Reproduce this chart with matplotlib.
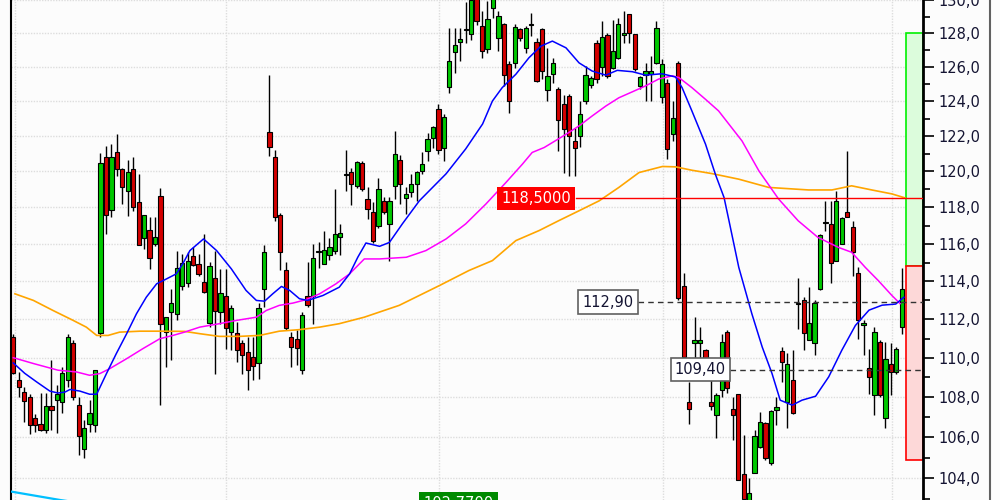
import numpy as np
import matplotlib.pyplot as plt
import matplotlib.transforms as mtransforms
from matplotlib.patches import Rectangle
from matplotlib.lines import Line2D
from matplotlib.ticker import FixedLocator, FuncFormatter, NullFormatter

# daily candles (open, high, low, close)
opens = [111.08, 108.86, 108.26, 108.0, 106.95, 106.65, 106.35, 107.56, 107.85, 107.76,
         108.86, 110.75, 107.6, 105.4, 106.65, 106.6, 111.26, 120.82, 117.87, 121.1,
         120.12, 118.93, 120.12, 118.32, 116.35, 116.78, 116.02, 118.65, 111.32, 112.36,
         112.3, 113.73, 113.9, 115.38, 114.95, 113.94, 111.78, 114.2, 112.36, 113.25,
         111.32, 111.26, 110.75, 110.28, 110.07, 109.72, 113.62, 122.23, 120.82, 117.6,
         114.58, 111.08, 111.0, 109.37, 113.25, 113.25, 115.55, 114.95, 115.43, 115.65,
         116.4, 119.8, 119.98, 119.21, 120.49, 118.48, 117.77, 117.0, 118.37, 117.1,
         119.21, 120.65, 118.54, 118.87, 119.32, 120.03, 121.16, 121.89, 123.56, 121.32,
         124.82, 126.87, 127.47, 128.2, 127.94, 130.3, 128.42, 127.05, 129.5, 127.7,
         128.54, 126.16, 126.22, 128.24, 127.1, 128.48, 127.47, 128.24, 124.64, 125.58,
         124.7, 123.85, 124.3, 121.72, 122.0, 124.01, 124.94, 127.41, 125.99, 127.88,
         125.92, 126.52, 127.88, 129.14, 127.94, 124.88, 125.52, 125.6, 126.22, 124.24,
         125.05, 122.12, 126.22, 113.78, 107.75, 110.75, 110.75, 110.39, 107.75, 107.1,
         108.35, 111.32, 107.4, 108.15, 104.2, 102.9, 104.24, 105.51, 106.7, 104.73,
         107.35, 110.34, 107.75, 108.86, 112.78, 112.99, 110.91, 110.75, 113.57, 117.15,
         117.1, 115.11, 116.0, 117.77, 116.95, 114.42, 111.68, 109.47, 108.1, 110.81,
         106.95, 109.67, 109.27, 111.58]
highs = [111.25, 109.28, 108.52, 108.18, 107.18, 108.2, 108.2, 109.87, 108.6, 109.53,
         111.25, 110.91, 108.0, 106.85, 107.85, 109.37, 121.04, 121.44, 121.55, 122.1,
         120.2, 120.63, 120.82, 119.85, 117.6, 117.45, 117.45, 119.1, 112.11, 113.61,
         115.65, 115.47, 115.56, 115.82, 115.47, 116.57, 115.02, 115.65, 114.67, 114.67,
         112.73, 111.85, 110.91, 111.08, 111.08, 112.83, 115.97, 125.52, 121.2, 117.71,
         115.02, 111.33, 111.42, 112.37, 115.02, 116.0, 116.1, 116.73, 116.35, 119.04,
         117.1, 121.2, 120.2, 120.6, 120.6, 119.11, 118.28, 119.66, 118.56, 118.56,
         122.29, 120.94, 119.11, 119.85, 120.03, 121.07, 122.17, 122.58, 123.85, 123.27,
         128.3, 128.3, 128.3, 129.9, 130.5, 130.6, 129.32, 129.92, 130.5, 129.32,
         128.6, 126.34, 128.54, 128.3, 128.42, 129.2, 127.72, 128.3, 127.1, 126.52,
         124.82, 124.36, 124.4, 122.46, 124.01, 126.05, 125.46, 127.59, 128.72, 128.0,
         128.82, 128.9, 129.32, 129.14, 127.94, 125.46, 126.24, 126.64, 128.72, 126.44,
         125.27, 124.01, 126.34, 114.44, 108.76, 112.11, 111.6, 110.48, 109.28, 108.2,
         111.25, 111.42, 108.0, 108.15, 106.1, 104.0, 106.35, 107.26, 106.77, 107.38,
         108.0, 110.55, 110.23, 110.39, 114.18, 113.16, 113.68, 112.99, 116.57, 118.37,
         118.37, 118.93, 117.45, 121.16, 117.27, 114.76, 111.94, 110.48, 111.6, 110.91,
         110.8, 110.75, 110.55, 114.73]
lows = [109.2, 108.0, 106.77, 106.18, 106.27, 106.3, 106.2, 106.35, 106.2, 107.2,
        108.52, 107.85, 105.12, 104.98, 106.27, 106.27, 111.06, 116.57, 117.45, 119.76,
        118.2, 117.55, 117.82, 115.95, 115.75, 114.67, 115.92, 107.6, 109.53, 109.87,
        111.94, 113.52, 113.7, 114.84, 114.31, 113.36, 111.59, 109.2, 111.76, 110.48,
        110.39, 109.79, 109.2, 108.35, 108.86, 108.94, 112.64, 120.88, 117.27, 114.58,
        111.42, 109.53, 109.62, 109.2, 112.64, 111.76, 114.73, 114.93, 115.16, 115.47,
        115.42, 118.93, 118.15, 119.1, 118.93, 117.38, 116.08, 116.9, 117.65, 115.11,
        118.47, 118.2, 117.65, 118.56, 118.37, 119.85, 120.6, 121.35, 120.99, 120.6,
        124.47, 125.64, 126.34, 127.4, 127.6, 128.5, 126.55, 126.82, 128.9, 126.93,
        124.88, 123.32, 125.95, 127.53, 126.82, 127.82, 125.13, 125.27, 124.01, 125.05,
        121.16, 119.93, 119.76, 119.76, 121.38, 123.85, 124.76, 125.05, 125.46, 125.35,
        125.87, 126.46, 127.41, 127.41, 125.76, 124.7, 124.01, 124.01, 126.16, 123.9,
        120.7, 121.72, 112.99, 109.99, 106.65, 109.99, 109.99, 109.2, 107.35, 105.95,
        108.0, 108.2, 105.85, 103.9, 102.5, 102.6, 104.24, 105.46, 104.88, 104.64,
        106.6, 108.78, 106.45, 107.18, 111.5, 110.39, 110.91, 110.13, 113.52, 116.7,
        113.9, 115.07, 116.0, 117.45, 114.31, 111.0, 110.13, 108.18, 107.1, 108.0,
        106.45, 108.1, 109.2, 111.25]
closes = [109.25, 108.52, 107.8, 106.6, 106.6, 106.35, 107.56, 107.35, 108.15, 109.22,
          111.08, 108.0, 106.05, 106.45, 107.2, 109.37, 120.49, 117.6, 120.82, 120.12,
          119.15, 119.99, 118.04, 115.97, 117.6, 115.27, 116.4, 111.73, 112.11, 112.83,
          114.69, 115.0, 115.11, 114.9, 114.37, 113.41, 114.84, 112.46, 113.36, 111.57,
          112.57, 110.39, 110.13, 109.37, 109.56, 112.57, 115.6, 121.38, 117.45, 115.6,
          111.52, 110.55, 110.5, 112.2, 112.73, 115.27, 115.6, 115.7, 115.86, 116.57,
          116.62, 119.85, 119.32, 120.55, 119.04, 117.93, 116.19, 119.04, 117.77, 118.37,
          120.99, 119.32, 118.76, 119.32, 119.98, 120.43, 121.83, 122.52, 121.21, 123.1,
          126.34, 127.3, 127.65, 128.25, 130.0, 128.72, 126.93, 128.84, 130.3, 129.02,
          125.52, 124.01, 128.36, 127.7, 128.3, 128.5, 125.17, 125.76, 125.46, 126.22,
          122.93, 122.4, 122.0, 121.32, 123.27, 125.52, 125.35, 125.29, 127.76, 125.46,
          126.93, 128.54, 128.0, 128.0, 125.87, 125.4, 125.76, 125.76, 128.3, 126.16,
          121.27, 123.04, 113.1, 110.03, 107.4, 110.91, 110.91, 109.97, 107.55, 108.1,
          110.8, 108.45, 107.1, 103.9, 103.0, 103.3, 106.05, 106.75, 104.98, 107.3,
          107.5, 109.77, 109.67, 107.2, 112.83, 111.26, 111.78, 112.88, 116.52, 117.2,
          115.0, 118.37, 117.43, 117.45, 115.56, 111.94, 111.78, 109.01, 111.32, 108.1,
          109.92, 109.27, 110.44, 113.57]

# moving averages, read at candle positions
blue_x = [0, 2.1, 4.3, 6.7, 8.2, 9.5, 10.4, 12.2, 14, 15.3, 17.1, 18.9, 20.8, 22.6, 24.4,
          26.3, 28.1, 29.9, 31.1, 32.4, 34.9, 37.3, 40, 42.7, 44.6, 46.1, 47.6, 49.2, 50.7,
          52.5, 54, 56.8, 59.8, 61.7, 63.2, 64.7, 67.2, 69, 71.4, 74.5, 79.4, 83, 86.1, 87.9,
          89.7, 92.2, 94.6, 96.8, 98.9, 101.4, 103.8, 106.2, 108.7, 110.8, 113.6, 116, 119,
          121.5, 122.7, 124.5, 127, 128.8, 130.4, 131.3, 133.1, 135.5, 137.4, 139.2, 140.7,
          142.9, 144.7, 147.2, 149.6, 152, 154.5, 157, 159.4, 161.9, 163.4]
blue_v = [109.74, 109.21, 108.77, 108.31, 108.21, 108.26, 108.39, 108.31, 108.15, 108.15,
          109.2, 110.22, 111.25, 112.29, 113.16, 113.87, 114.13, 114.4, 114.94, 115.65,
          116.28, 115.65, 114.67, 113.52, 112.99, 112.95, 113.34, 113.73, 113.52, 113.08,
          112.99, 113.25, 113.69, 114.4, 115.29, 116.06, 115.88, 116.09, 117.11, 118.37,
          119.87, 121.27, 122.69, 124.01, 124.79, 125.57, 126.54, 127.23, 127.53, 127.13,
          126.24, 125.76, 125.52, 125.8, 125.72, 125.52, 125.6, 125.41, 124.79, 123.44,
          121.54, 119.85, 118.55, 117.28, 114.75, 112.29, 110.56, 109.2, 107.85, 107.6,
          107.85, 108.05, 109.03, 110.39, 111.68, 112.48, 112.74, 112.8, 113.16]

pink_x = [0, 3.7, 8.2, 11.6, 14, 15.9, 17.7, 20.8, 23.8, 26.9, 29.3, 31.4, 34.2, 37.8, 40.9,
          44.6, 46.4, 48.8, 51.3, 53.7, 56.2, 59.2, 61.7, 64.4, 67.2, 72.1, 75.7, 79.4, 83,
          86.7, 90.4, 93.4, 95.2, 97.4, 98.9, 101.4, 103.8, 106.2, 108.7, 111.1, 113.6, 116,
          118.4, 120.9, 122.1, 124.5, 127, 129.4, 133.7, 136.8, 140.4, 144, 147.6, 151.4,
          153.8, 156.3, 158.7, 161.2, 162.7]
pink_v = [110.01, 109.71, 109.37, 109.28, 109.11, 109.2, 109.45, 109.96, 110.48, 110.99,
          111.16, 111.33, 111.59, 111.77, 111.94, 112.11, 112.46, 112.73, 112.85, 113.03,
          113.34, 113.87, 114.4, 115.2, 115.2, 115.29, 115.65, 116.28, 117.1, 118.19,
          119.39, 120.41, 121.07, 121.35, 121.63, 122.1, 122.58, 123.15, 123.72, 124.2,
          124.55, 124.89, 125.29, 125.48, 125.38, 124.79, 124.11, 123.44, 121.72, 120.03,
          118.47, 117.27, 116.37, 115.82, 115.56, 114.75, 114.04, 113.25, 112.82]

orange_x = [0.3, 3.7, 7.3, 11, 13.4, 15.3, 17.4, 19.5, 23.2, 26.9, 31.4, 34.2, 37.8, 41.5,
            45.2, 48.8, 52.5, 56.2, 59.8, 64.4, 70.8, 78.2, 83.6, 87.9, 92.2, 96.5, 100.1,
            103.8, 107.5, 111.1, 114.8, 119.1, 121.5, 124.5, 128.2, 133.1, 138.6, 145.9,
            150.2, 153.8, 157.5, 161.2, 163.6]
orange_v = [113.34, 112.99, 112.46, 111.94, 111.59, 111.16, 111.16, 111.33, 111.38, 111.38,
            111.37, 111.25, 111.11, 111.11, 111.16, 111.38, 111.46, 111.59, 111.77, 112.11,
            112.73, 113.78, 114.58, 115.11, 116.19, 116.74, 117.28, 117.82, 118.37, 119.11,
            119.94, 120.28, 120.26, 120.07, 119.88, 119.57, 119.11, 118.97, 118.97, 119.2,
            118.97, 118.75, 118.53]

cyan_x = [-0.5, 8.6, 20]
cyan_v = [103.35, 102.94, 102.5]

grid_x = [0.31, 39.0, 78.1, 119.2, 161.2]
y_major = list(range(104, 132, 2))
y_minor = list(range(103, 131, 2))

level_red = 118.5
level_mid = 112.9
level_low = 109.4
level_bottom = 102.77
zone_top, zone_mid, zone_low = 128.0, 114.8, 104.9

plt.rcParams['font.family'] = ['DejaVu Sans']
bg = '#fcfcfc'
fig = plt.figure(figsize=(10, 5), dpi=100, facecolor=bg)
ax = fig.add_axes([0.011, 0.0, 0.912, 1.0], facecolor=bg)
ax.set_yscale('log')

x = np.arange(len(opens))
o = np.array(opens)
c = np.array(closes)
up = c >= o
cols = np.where(up, '#00c800', '#d40000')
ax.vlines(x, lows, highs, color='black', lw=1, zorder=3)
ax.bar(x, np.maximum(np.abs(c - o), 0.07), bottom=np.minimum(o, c), width=0.78,
       color=cols, edgecolor='black', linewidth=0.8, zorder=4)

ax.plot(orange_x, orange_v, color='#ffa500', lw=1.2, zorder=5)
ax.plot(pink_x, pink_v, color='#ff00ff', lw=1.1, zorder=5)
ax.plot(blue_x, blue_v, color='#0000ff', lw=1.1, zorder=5)
ax.plot(cyan_x, cyan_v, color='#00bfff', lw=1.6, zorder=5)

trans = mtransforms.blended_transform_factory(ax.transAxes, ax.transData)

# zones on the right edge
ax.add_patch(Rectangle((0.981, zone_mid), 0.019, zone_top - zone_mid, transform=trans,
                       facecolor='#dcfcdc', edgecolor='#00f000', lw=1.2, zorder=2))
ax.add_patch(Rectangle((0.981, zone_low), 0.019, zone_mid - zone_low, transform=trans,
                       facecolor='#fdd8d8', edgecolor='#ff0000', lw=1.2, zorder=2))

# level lines and their labels
ax.axhline(level_red, xmin=0.6195, xmax=1, color='#ff0000', lw=1, zorder=6)
ax.axhline(level_mid, xmin=0.6875, xmax=1, color='#333333', lw=1, ls=(0, (4, 3)), zorder=6)
ax.axhline(level_low, xmin=0.788, xmax=1, color='#333333', lw=1, ls=(0, (4, 3)), zorder=6)

def fmt(v, nd):
    return f"{v:.{nd}f}".replace('.', ',')

ax.text(0.5757, level_red, fmt(level_red, 4), transform=trans, ha='center', va='center',
        color='white', fontsize=10.5, zorder=7,
        bbox=dict(boxstyle='square,pad=0.3', fc='#ff0000', ec='none'))
ax.text(0.6545, level_mid, fmt(level_mid, 2), transform=trans, ha='center', va='center',
        color='#141432', fontsize=10.5, zorder=7,
        bbox=dict(boxstyle='square,pad=0.3', fc='white', ec='#606060', lw=1.2))
ax.text(0.756, level_low, fmt(level_low, 2), transform=trans, ha='center', va='center',
        color='#141432', fontsize=10.5, zorder=7,
        bbox=dict(boxstyle='square,pad=0.3', fc='white', ec='#606060', lw=1.2))
ax.text(0.491, level_bottom, fmt(level_bottom, 4), transform=trans, ha='center', va='center',
        color='white', fontsize=10.5, zorder=7,
        bbox=dict(boxstyle='square,pad=0.3', fc='#008a00', ec='none'))

ax.set_xlim(-0.42, 166.9)
ax.set_ylim(102.94, 130.0)

ax.yaxis.tick_right()
ax.yaxis.set_major_locator(FixedLocator(y_major))
ax.yaxis.set_minor_locator(FixedLocator(y_minor))
ax.yaxis.set_major_formatter(FuncFormatter(lambda v, _: fmt(v, 1)))
ax.yaxis.set_minor_formatter(NullFormatter())
ax.tick_params(axis='y', which='major', direction='out', length=8, width=1.2,
               labelsize=10.5, labelcolor='#141432', pad=3)
ax.tick_params(axis='y', which='minor', direction='out', length=5, width=1.2)
ax.set_xticks(grid_x)
ax.tick_params(axis='x', length=0, labelbottom=False)
ax.grid(True, which='major', color='#dddddd', ls=(0, (1, 1)), lw=1, zorder=0)
ax.set_axisbelow(True)

for s in ['top', 'bottom']:
    ax.spines[s].set_visible(False)
ax.spines['left'].set_linewidth(1.5)
ax.spines['right'].set_linewidth(2)

fig.add_artist(Line2D([0.99, 0.99], [0, 1], transform=fig.transFigure, color='#606060', lw=1.5))

fig.savefig('out.png', dpi=100, facecolor=bg)
